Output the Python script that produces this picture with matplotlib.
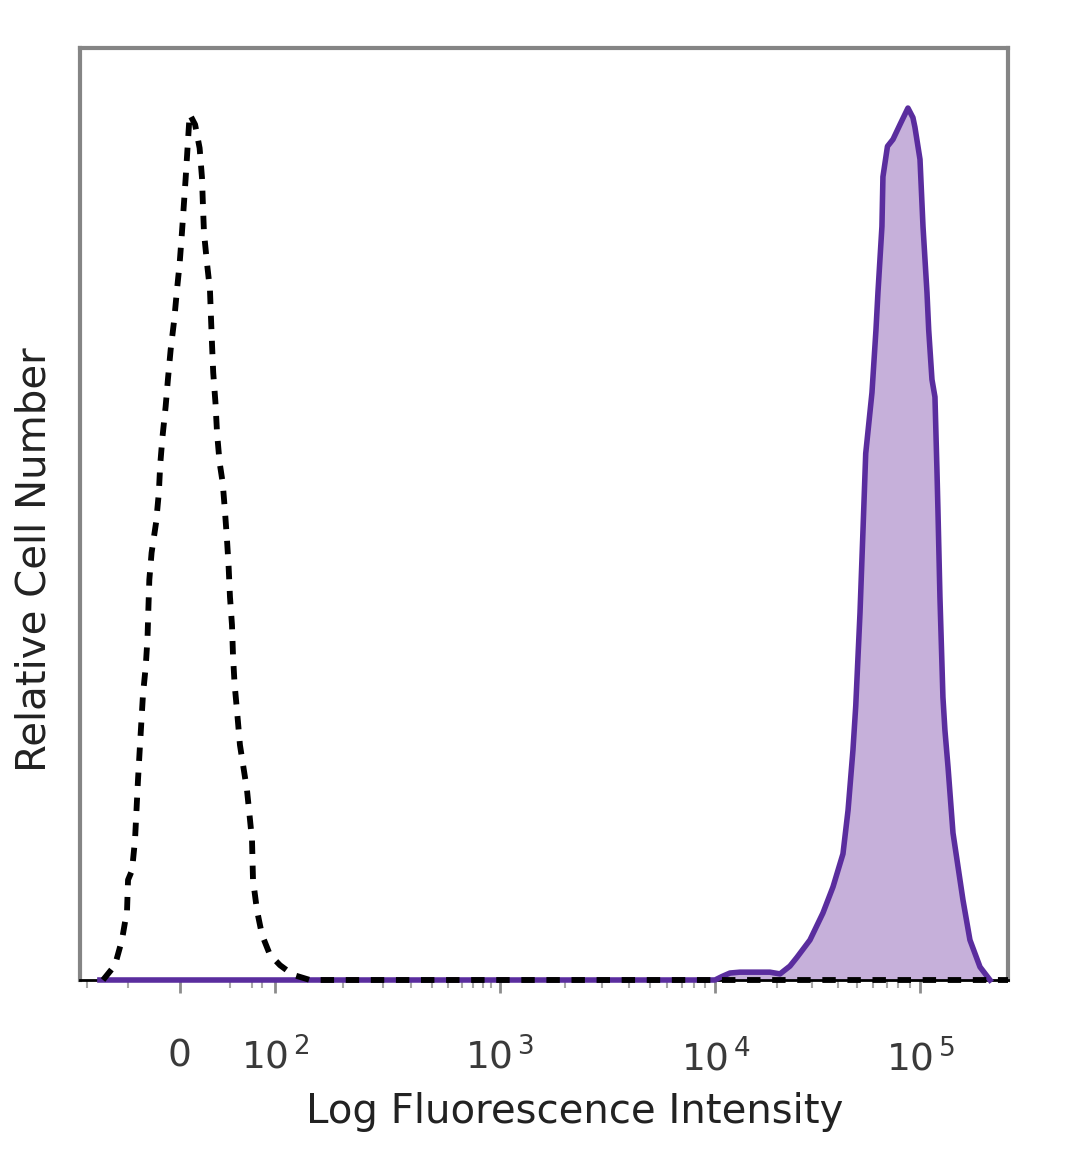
import numpy as np
import matplotlib
matplotlib.use('Agg')
import matplotlib.pyplot as plt

# x in instrument channels (0-1024, biexponential display), y in % of max
# unstained / isotype control (dashed)
ctrl_x = [25.4, 38.6, 46.3, 51.9, 53.0, 57.4, 60.7, 62.9, 64.0, 66.2, 69.5,
          72.5, 74.5, 75.5, 76.5, 79.0, 84.0, 87.0, 88.5, 91.0, 94.5,
          97.0, 100.0, 104.0, 107.0, 110.0, 112.5, 116.5,
          121.0, 127.0, 132.0, 134.6, 135.7, 136.8, 140.1, 143.4, 144.5,
          145.7, 147.0, 149.5, 151.2, 154.0, 157.5, 160.0, 162.2, 164.0,
          165.5, 167.7, 168.8, 170.5, 173.2, 176.5, 184.3, 187.6, 189.8,
          190.9, 195.3, 200.8, 209.6, 220.7, 235.0, 253.8, 1024]
ctrl_y = [0, 1.7, 4.6, 8.0, 11.5, 12.6, 16.1, 20.7, 23.0, 27.0, 32.8,
          36.0, 39.3, 42.8, 46.0, 49.1, 52.6, 56.0, 59.2, 62.4, 65.9,
          69.0, 72.4, 75.9, 79.3, 82.4, 85.9, 92.0,
          99.5, 98.3, 95.6, 92.2, 88.9, 85.9, 82.4, 79.3, 76.2,
          73.0, 69.8, 66.3, 62.9, 59.5, 57.1, 53.8, 50.6, 47.5,
          44.0, 40.8, 37.4, 34.1, 31.0, 27.0, 21.8, 18.4, 16.1,
          11.5, 8.0, 5.2, 2.9, 1.7, 0.6, 0, 0]

# stained sample (filled)
stain_x = [22.0, 700.7, 708.4, 717.2, 728.2, 761.3, 772.4, 783.4, 791.1,
           805.5, 819.8, 830.9, 841.9, 847.5, 852.9, 856.0, 860.7, 864.0,
           867.0, 873.9, 878.3, 880.5, 884.9, 886.0, 891.0, 897.1, 904.8,
           913.6, 919.1, 921.3, 926.9, 930.2, 934.6, 936.5, 940.1, 943.4,
           945.6, 946.7, 948.9, 952.2, 954.4, 957.8, 963.3, 974.3, 982.0,
           993.1, 1004.1]
stain_y = [0, 0, 0.4, 0.8, 0.9, 0.9, 0.7, 1.6, 2.6,
           4.6, 7.7, 10.7, 14.5, 19.5, 26.4, 31.5, 42.2, 51.7,
           60.5, 67.5, 74.7, 79.0, 86.6, 92.3, 95.8, 96.6, 98.3,
           100.2, 99.1, 98.0, 94.3, 86.6, 79.0, 74.7, 69.0, 67.0,
           58.6, 54.0, 44.0, 32.5, 28.7, 24.5, 16.9, 9.2, 4.6,
           1.5, 0]

major_pos = [110, 215, 463, 701, 927]
major_lab = ['0', r'$10^{\,2}$', r'$10^{\,3}$', r'$10^{\,4}$', r'$10^{\,5}$']
minor_pos = [8, 53, 165, 190, 201,
             290, 334, 365, 388, 406, 421, 434, 445, 454,
             535, 576, 606, 629, 648, 664, 678, 690,
             769, 808, 836, 857, 875, 890, 903, 916]

fig = plt.figure(figsize=(10.8, 11.69), dpi=100)
ax = fig.add_axes([80 / 1080, 1 - 980 / 1169, 928 / 1080, 932 / 1169])

ax.fill_between(stain_x, stain_y, 0, color='#c6b0da', lw=0, zorder=1)
ax.plot(stain_x, stain_y, color='#5a2d9e', lw=4.0, zorder=3,
        solid_joinstyle='round', clip_on=False)
ax.plot(ctrl_x, ctrl_y, color='black', lw=4.2, ls=(0, (2.3, 2.0)), zorder=4,
        clip_on=False)

ax.set_xlim(0, 1024)
ax.set_ylim(0, 107.1)

for s in ['left', 'top', 'right']:
    ax.spines[s].set_color('#858585')
    ax.spines[s].set_linewidth(3.0)
ax.spines['bottom'].set_color('black')
ax.spines['bottom'].set_linewidth(2.0)

ax.set_yticks([])
ax.set_xticks(major_pos)
ax.set_xticklabels(major_lab)
ax.set_xticks(minor_pos, minor=True)
ax.tick_params(axis='x', which='major', length=9, width=2, color='#8c8c8c',
               pad=33, labelsize=27, labelcolor='#3a3a3a')
ax.tick_params(axis='x', which='minor', length=6, width=1.5, color='#a8a8a8')

ax.set_xlabel('Log Fluorescence Intensity', fontsize=29, color='#222222')
ax.xaxis.set_label_coords(0.533, -0.12)
ax.set_ylabel('Relative Cell Number', fontsize=29, color='#222222')
ax.yaxis.set_label_coords(-0.028, 0.451)

fig.savefig('out.png', dpi=100)
